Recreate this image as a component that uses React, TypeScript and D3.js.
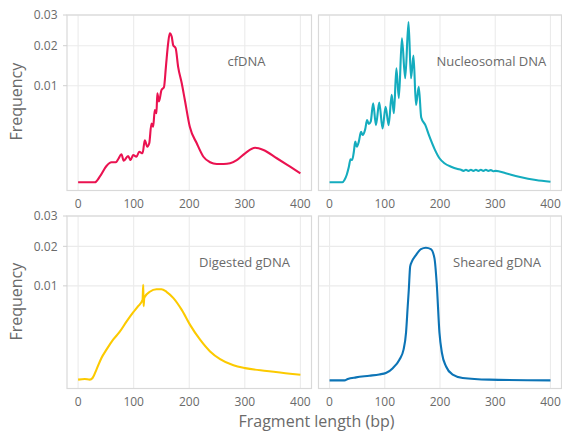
import React from "react";
import * as d3 from "d3";

type Pt = [number, number];

// Fragment length (bp) vs frequency
const cfDNA: Pt[] = [
  [0, 0], [30, 0], [39, 0.000034], [51, 0.000285], [60, 0.00043], [68, 0.00043], [72, 0.00057],
  [78, 0.00084], [82, 0.0005], [90, 0.00074], [94.5, 0.00053], [99, 0.0008], [105, 0.0007],
  [110, 0.001], [116, 0.0009], [120, 0.0019], [124.5, 0.00136], [128, 0.00163], [132, 0.0037],
  [135, 0.0033], [138, 0.0056], [141, 0.0051], [142.5, 0.0085], [145.5, 0.007], [150, 0.0091],
  [154.5, 0.0097], [158, 0.0143], [162, 0.0207], [165, 0.0238], [168.5, 0.0227], [171, 0.0202],
  [175.5, 0.0193], [180, 0.0143], [186.5, 0.0105], [192, 0.0073], [201, 0.0033], [213.5, 0.00163],
  [225.5, 0.0007], [237.5, 0.00043], [249.5, 0.00036], [262, 0.00036], [273.5, 0.00039],
  [285.5, 0.00053], [300.5, 0.0009], [318.5, 0.00128], [333.5, 0.00112], [357.5, 0.00062],
  [381.5, 0.00026], [400, 0.000087],
];

const nucleosomalDNA: Pt[] = [
  [0, 0], [23, 0], [27, 0.000006], [31, 0.000057], [35, 0.00026], [38, 0.00057], [41, 0.00053],
  [44, 0.001], [46.5, 0.00177], [49.5, 0.00136], [53, 0.00177], [57, 0.00274], [60, 0.0024],
  [64.5, 0.003], [68, 0.00416], [71, 0.00364], [74.5, 0.00394], [79, 0.0067], [84, 0.0035],
  [90, 0.0068], [96, 0.0031], [101.5, 0.0061], [107, 0.0035], [112.5, 0.0082], [116.5, 0.0051],
  [121, 0.0139], [125.5, 0.0076], [131, 0.0222], [137, 0.0116], [143, 0.0275], [147.5, 0.0116],
  [152, 0.0172], [156.5, 0.0064], [161.5, 0.0098], [166, 0.0045], [173.5, 0.0035], [180.5, 0.0023],
  [190, 0.0012], [199, 0.00062], [208, 0.00039], [220, 0.00026], [232, 0.00019], [238, 0.00017],
  [242.5, 0.00014], [247, 0.00017], [251.5, 0.00014], [256, 0.00017], [260.5, 0.00014],
  [265, 0.00017], [269.5, 0.00014], [274, 0.00017], [278.5, 0.00014], [283, 0.00017],
  [287.5, 0.00014], [292, 0.00016], [296.5, 0.00013], [301, 0.00014], [319, 0.000087],
  [343, 0.000034], [373.5, 0.0000057], [400, 0.0000004],
];

const digestedGDNA: Pt[] = [
  [0, 0.000003], [12, 0.000006], [21, 0.000003], [26, 0.000012], [33, 0.00015], [42, 0.0006],
  [51, 0.0011], [63, 0.0019], [75, 0.0027], [87, 0.0039], [99, 0.0052], [108, 0.0062],
  [116, 0.0073], [117.2, 0.0102], [117.8, 0.0062], [119, 0.0076], [120.5, 0.0079], [129, 0.0088],
  [141, 0.0093], [150, 0.0093], [159, 0.0088], [171.5, 0.0076], [186.5, 0.0056], [201.5, 0.0035],
  [219.5, 0.0019], [237.5, 0.00098], [255.5, 0.00054], [279.5, 0.00028], [300.5, 0.00019],
  [339.5, 0.000116], [381.5, 0.000063], [400, 0.000048],
];

const shearedGDNA: Pt[] = [
  [0, 0.000001], [27, 0.000001], [33, 0.000006], [48, 0.000017], [72, 0.000034], [90, 0.000052],
  [102, 0.000075], [114.5, 0.00019], [126.5, 0.00051], [134, 0.0011], [138.5, 0.0026],
  [141.5, 0.0061], [143.5, 0.0092], [146, 0.0145], [149, 0.0157], [156.5, 0.0175],
  [165.5, 0.0192], [174.5, 0.0196], [183.5, 0.0192], [190, 0.0166], [194, 0.0106], [199, 0.0026],
  [203.5, 0.00088], [211, 0.00024], [223, 0.000048], [241, 0.000012], [289, 0.000003],
  [400, 0.000001],
];

const xTicks = [0, 100, 200, 300, 400];
const yTicks = [0.01, 0.02, 0.03];
const yTickLabels = ["0.01", "0.02", "0.03"];
const panelNames = ["cfDNA", "Nucleosomal DNA", "Digested gDNA", "Sheared gDNA"];
const panelColors = ["#ea1250", "#14acbe", "#fcca00", "#0c74b6"];
const panelData = [cfDNA, nucleosomalDNA, digestedGDNA, shearedGDNA];

const FONT = "'Open Sans', 'Noto Sans', sans-serif";
const TEXT = "#6a6a6a";

const rows = [
  { top: 15, zero: 182.3, bottom: 190.5 },
  { top: 216, zero: 381.3, bottom: 388.5 },
];
const cols = [
  { left: 67, right: 311.5 },
  { left: 318.5, right: 561.5 },
];
const labelPos = [
  { x: 227.5, y: 66 },
  { x: 436.5, y: 65.5 },
  { x: 199, y: 266.5 },
  { x: 453, y: 266.5 },
];

export default function App() {
  return (
    <svg width={562} height={431} style={{ position: "absolute", left: 0, top: 0, background: "#fff" }}>
      {panelData.map((data, i) => {
        const r = rows[Math.floor(i / 2)];
        const c = cols[i % 2];
        const x = d3.scaleLinear().domain([-20, 420]).range([c.left, c.right]);
        const y = d3.scaleSqrt().domain([0, 0.03]).range([r.zero, r.top]);
        const line = d3
          .line<Pt>()
          .x((d) => x(d[0]))
          .y((d) => y(d[1]))
          .curve(d3.curveMonotoneX);
        return (
          <g key={i}>
            <rect x={c.left} y={r.top} width={c.right - c.left} height={r.bottom - r.top} fill="#fff" />
            {xTicks.map((t) => (
              <line key={"gx" + t} x1={x(t)} x2={x(t)} y1={r.top} y2={r.bottom} stroke="#ebebeb" strokeWidth={1.1} />
            ))}
            {yTicks.map((t) => (
              <line key={"gy" + t} x1={c.left} x2={c.right} y1={y(t)} y2={y(t)} stroke="#ebebeb" strokeWidth={1.1} />
            ))}
            <rect
              x={c.left}
              y={r.top}
              width={c.right - c.left}
              height={r.bottom - r.top}
              fill="none"
              stroke="#d9d9d9"
              strokeWidth={1.2}
            />
            <path d={line(data) || ""} fill="none" stroke={panelColors[i]} strokeWidth={2.1} strokeLinejoin="round" />
            <text x={labelPos[i].x} y={labelPos[i].y} fontFamily={FONT} fontSize={13} fill={TEXT}>
              {panelNames[i]}
            </text>
            {xTicks.map((t) => (
              <text
                key={"tx" + t}
                x={x(t)}
                y={r.bottom + 17}
                textAnchor="middle"
                fontFamily={FONT}
                fontSize={12}
                fill={TEXT}
              >
                {t}
              </text>
            ))}
            {i % 2 === 0 &&
              yTicks.map((t, k) => (
                <g key={"ty" + t}>
                  <line x1={c.left - 4} x2={c.left} y1={y(t)} y2={y(t)} stroke="#d0d0d0" strokeWidth={1} />
                  <text x={57.5} y={y(t) + 4.3} textAnchor="end" fontFamily={FONT} fontSize={12} fill={TEXT}>
                    {yTickLabels[k]}
                  </text>
                </g>
              ))}
          </g>
        );
      })}
      {rows.map((r, k) => {
        const cy = (r.top + r.zero) / 2 + 3;
        return (
          <text
            key={"yt" + k}
            transform={`translate(22,${cy}) rotate(-90)`}
            textAnchor="middle"
            fontFamily={FONT}
            fontSize={16}
            fill={TEXT}
          >
            Frequency
          </text>
        );
      })}
      <text x={316.5} y={427} textAnchor="middle" fontFamily={FONT} fontSize={16} fill={TEXT}>
        Fragment length (bp)
      </text>
    </svg>
  );
}
